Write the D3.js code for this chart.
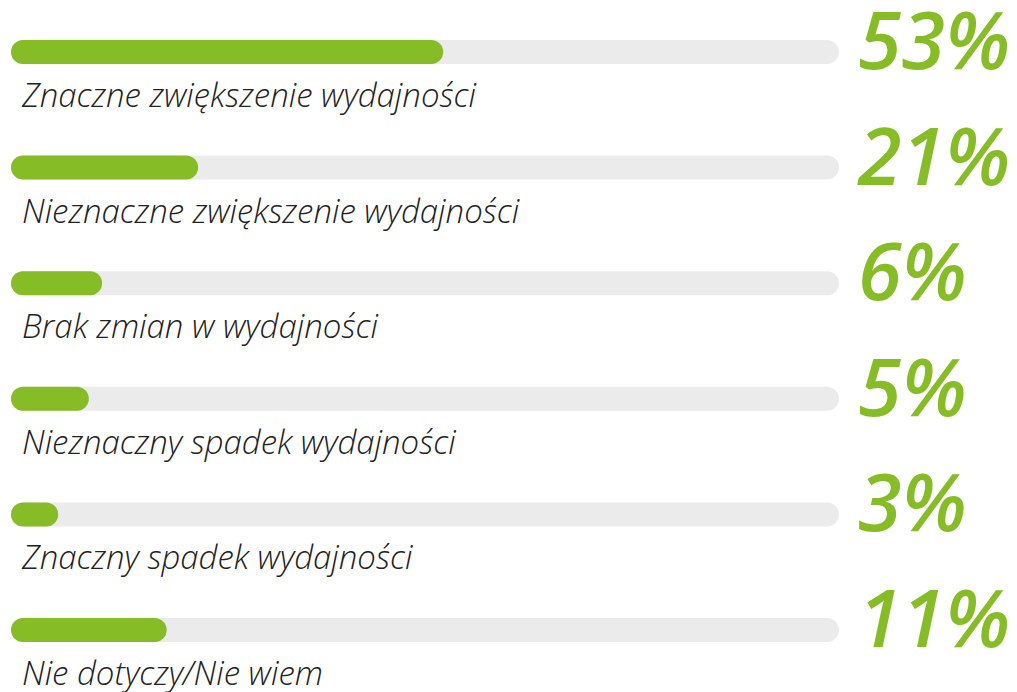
<!DOCTYPE html>
<html>
<head>
<meta charset="utf-8">
<script src="https://cdn.jsdelivr.net/npm/d3@7"></script>
<style>
  body { margin: 0; background: #fff; }
  svg { display: block; }
</style>
</head>
<body>
<svg id="chart" width="1017" height="692"></svg>
<script>
// answers, in the order shown
var categories = [
  'Znaczne zwiększenie wydajności',
  'Nieznaczne zwiększenie wydajności',
  'Brak zmian w wydajności',
  'Nieznaczny spadek wydajności',
  'Znaczny spadek wydajności',
  'Nie dotyczy/Nie wiem'
];
// percentages printed on the right
var shares = [53, 21, 6, 5, 3, 11];
// how far each green bar actually reaches along its grey track (percent of track)
var barFill = [52.2, 22.6, 11, 9.4, 5.7, 18.8];

var svg = d3.select('#chart');
var barH = 24;

var x = d3.scaleLinear()
  .domain([0, 100])
  .range([11, 839]);

var y = d3.scalePoint()
  .domain(categories)
  .range([40, 618]);

var rows = svg.selectAll('g.row')
  .data(categories)
  .join('g')
  .attr('class', 'row')
  .attr('transform', function(d) { return 'translate(0,' + y(d) + ')'; });

// grey track
rows.append('rect')
  .attr('x', x(0))
  .attr('width', x(100) - x(0))
  .attr('height', barH)
  .attr('rx', barH / 2)
  .attr('fill', '#ebebeb');

// green bar
rows.append('rect')
  .attr('x', x(0))
  .attr('width', function(d, i) { return x(barFill[i]) - x(0); })
  .attr('height', barH)
  .attr('rx', barH / 2)
  .attr('fill', '#86bc25');

// answer label under the bar
rows.append('text')
  .attr('x', 22)
  .attr('y', barH + 43)
  .attr('font-family', '"Open Sans", sans-serif')
  .attr('font-style', 'italic')
  .attr('font-weight', 300)
  .attr('font-size', 33)
  .attr('fill', '#222')
  .text(function(d) { return d; });

// big percentage on the right
rows.append('text')
  .attr('x', 858)
  .attr('y', barH + 5)
  .attr('font-family', '"Open Sans", sans-serif')
  .attr('font-style', 'italic')
  .attr('font-weight', 600)
  .attr('font-size', 79)
  .attr('fill', '#86bc25')
  .text(function(d, i) { return shares[i] + '%'; });
</script>
</body>
</html>
